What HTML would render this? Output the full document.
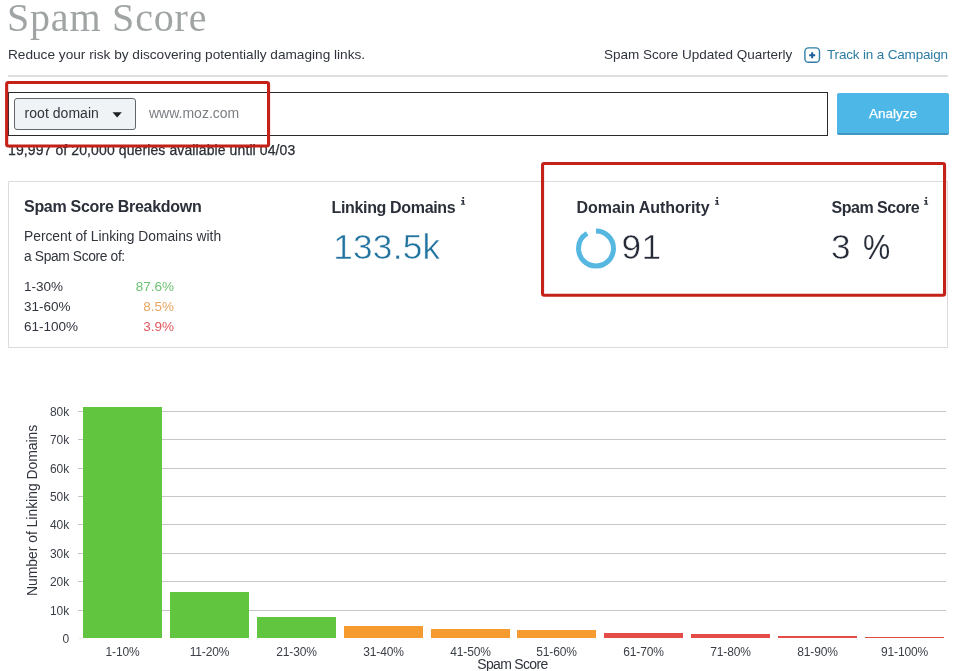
<!DOCTYPE html>
<html>
<head>
<meta charset="utf-8">
<title>Spam Score</title>
<style>
  html, body { margin: 0; padding: 0; }
  body {
    width: 966px; height: 671px; overflow: hidden; position: relative;
    background: #ffffff;
    font-family: "Liberation Sans", sans-serif;
    color: #2e3440;
  }
  #wrap { position: absolute; left: 0; top: 0; width: 966px; height: 671px; will-change: transform; }
  .abs { position: absolute; white-space: nowrap; }
  .title {
    left: 7px; top: -6px;
    font-family: "Liberation Serif", serif;
    font-size: 40px; line-height: 48px; color: #a0a4a5;
    letter-spacing: 0.8px;
  }
  .sub { left: 8px; top: 46px; transform: translateY(-0.5px); font-size: 13.65px; line-height: 18px; color: #30343c; }
  .upd { left: 604px; top: 46px; transform: translateY(-0.5px); font-size: 13.5px; line-height: 18px; color: #30343c; }
  .track { left: 827px; top: 46px; transform: translateY(-0.5px); font-size: 13.5px; line-height: 18px; color: #2c7ba3; letter-spacing: -0.17px; }
  .hr { left: 8px; top: 75px; width: 940px; height: 2px; background: #dfdfdf; }
  .inputbox { left: 8px; top: 92px; width: 818px; height: 42px; border: 1px solid #2a2a2a; background: #fff; }
  .select { left: 14px; top: 98px; width: 120px; height: 30px; border: 1px solid #62676b; background: #eff3f5; border-radius: 3px; }
  .seltext { left: 24.6px; top: 104px; font-size: 14px; line-height: 18px; color: #30343c; letter-spacing: 0.03px; transform: translateY(0.4px); }
  .placeholder { left: 149px; top: 104px; font-size: 14px; line-height: 18px; color: #7a7f84; transform: translateY(0.2px); }
  .btn { left: 837px; top: 93px; width: 112px; height: 39.6px; background: #4db8e8; border-bottom: 2px solid #3f96c0; border-radius: 2px; }
  .btntext { left: 837px; top: 104.5px; -webkit-text-stroke: 0.25px #fff; width: 112px; text-align: center; font-size: 13.5px; line-height: 18px; color: #ffffff; }
  .queries { left: 8px; top: 141px; font-size: 14px; line-height: 18px; color: #2a2e35; letter-spacing: 0.105px; -webkit-text-stroke: 0.25px #2a2e35; transform: translateY(0.3px); }
  .panel { left: 8px; top: 181px; width: 938px; height: 165px; border: 1px solid #dcdcdc; background: #fff; }
  .h { font-weight: bold; font-size: 16px; line-height: 20px; color: #2b2f3a; }
  .txt { font-size: 13.5px; line-height: 20px; color: #30343c; }
  .big { font-size: 35.2px; line-height: 40px; transform: translateY(0.6px); color: #262b38; -webkit-text-stroke: 0.55px #ffffff; }
  .ylab { font-size: 12px; line-height: 16px; width: 40px; text-align: right; color: #3a3e46; margin-left: 0.3px; transform: translateY(1.25px); }
  .xlab { font-size: 12px; line-height: 16px; width: 87px; text-align: center; color: #3a3e46; letter-spacing: -0.15px; }
  .grid { left: 78px; width: 868px; height: 1px; background: #c6c6c6; }
  .bar { position: absolute; }
</style>
</head>
<body>
<div id="wrap">

<div class="abs title">Spam Score</div>
<div class="abs sub">Reduce your risk by discovering potentially damaging links.</div>
<div class="abs upd">Spam Score Updated Quarterly</div>
<svg class="abs" style="left:804px;top:47px" width="17" height="17" viewBox="0 0 17 17"><rect x="0.9" y="0.9" width="14.6" height="14.4" rx="3.6" ry="3.6" fill="#ffffff" stroke="#2f7ea8" stroke-width="1.4"/><path d="M8.2 5.3 V11.3 M5.2 8.3 H11.2" stroke="#1c5f9a" stroke-width="2" fill="none"/></svg>
<div class="abs track">Track in a Campaign</div>
<div class="abs hr"></div>

<div class="abs inputbox"></div>
<div class="abs select"></div>
<div class="abs seltext">root domain</div>
<svg class="abs" style="left:110px;top:110px" width="14" height="10" viewBox="0 0 14 10"><path d="M2.5 2.2 H11.8 L7.15 7.4 Z" fill="#1c1f24"/></svg>
<div class="abs placeholder">www.moz.com</div>
<div class="abs btn"></div>
<div class="abs btntext">Analyze</div>
<div class="abs queries">19,997 of 20,000 queries available until 04/03</div>

<div class="abs panel"></div>
<div class="abs h" style="left:24px;top:196.6px;letter-spacing:-0.29px">Spam Score Breakdown</div>
<div class="abs txt" style="left:24px;top:226.5px;font-size:13.8px">Percent of Linking Domains with</div>
<div class="abs txt" style="left:24px;top:246.5px;font-size:13.8px;letter-spacing:-0.36px">a Spam Score of:</div>
<div class="abs txt" style="left:24px;top:276.6px">1-30%</div>
<div class="abs txt" style="left:24px;top:296.6px">31-60%</div>
<div class="abs txt" style="left:24px;top:316.6px">61-100%</div>
<div class="abs txt" style="left:114px;width:60px;text-align:right;top:276.6px;color:#6cc070">87.6%</div>
<div class="abs txt" style="left:114px;width:60px;text-align:right;top:296.6px;color:#eaa560">8.5%</div>
<div class="abs txt" style="left:114px;width:60px;text-align:right;top:316.6px;color:#e0575f">3.9%</div>

<div class="abs h" style="left:331.5px;top:197.9px;letter-spacing:-0.34px">Linking Domains</div>
<svg class="abs" style="left:461.2px;top:196.9px" width="5" height="9" viewBox="0 0 5 9"><path fill="#2b303b" d="M1.3 0h1.8v1.8H1.3z M0.3 3.1h2.8v3.6h1v1.1H0v-1.1h1.4V4.2H0.3z"/></svg>
<div class="abs big" style="left:333.2px;top:226px;letter-spacing:0.25px;color:#20739f">133.5k</div>

<div class="abs h" style="left:576.5px;top:197.9px;letter-spacing:-0.04px">Domain Authority</div>
<svg class="abs" style="left:715.2px;top:196.9px" width="5" height="9" viewBox="0 0 5 9"><path fill="#2b303b" d="M1.3 0h1.8v1.8H1.3z M0.3 3.1h2.8v3.6h1v1.1H0v-1.1h1.4V4.2H0.3z"/></svg>
<svg class="abs" style="left:574px;top:225.5px" width="44" height="44" viewBox="0 0 44 44">
  <circle cx="22" cy="22.5" r="17.5" fill="none" stroke="#56b8e1" stroke-width="5"
    stroke-dasharray="100 200" transform="rotate(-90 22 22.5)"/>
</svg>
<div class="abs big" style="left:621.6px;top:226px;letter-spacing:0.4px">91</div>

<div class="abs h" style="left:831.5px;top:197.9px;letter-spacing:-0.48px">Spam Score</div>
<svg class="abs" style="left:924px;top:196.9px" width="5" height="9" viewBox="0 0 5 9"><path fill="#2b303b" d="M1.3 0h1.8v1.8H1.3z M0.3 3.1h2.8v3.6h1v1.1H0v-1.1h1.4V4.2H0.3z"/></svg>
<div class="abs big" style="left:831.1px;top:226px">3</div>
<div class="abs big" style="left:862.6px;top:226px;transform:translateY(0.6px) scaleX(0.87);transform-origin:0 0;-webkit-text-stroke-width:0.15px">%</div>

<svg class="abs" style="left:0;top:0" width="966" height="671" viewBox="0 0 966 671"><g fill="none" stroke="#c42118" stroke-width="3.1"><rect x="6.65" y="82.5" width="261.9" height="63.45" rx="1.7" ry="1.7"/><rect x="542.55" y="163.5" width="402" height="131.7" rx="1.7" ry="1.7"/></g></svg>

<!-- chart -->
<div class="abs grid" style="top:411px"></div>
<div class="abs grid" style="top:439px"></div>
<div class="abs grid" style="top:468px"></div>
<div class="abs grid" style="top:496px"></div>
<div class="abs grid" style="top:524px"></div>
<div class="abs grid" style="top:553px"></div>
<div class="abs grid" style="top:581px"></div>
<div class="abs grid" style="top:610px"></div>
<div class="abs grid" style="top:638px;background:#f1f1f1;width:5px"></div>

<div class="abs ylab" style="left:29px;top:403px">80k</div>
<div class="abs ylab" style="left:29px;top:431px">70k</div>
<div class="abs ylab" style="left:29px;top:460px">60k</div>
<div class="abs ylab" style="left:29px;top:488px">50k</div>
<div class="abs ylab" style="left:29px;top:516px">40k</div>
<div class="abs ylab" style="left:29px;top:545px">30k</div>
<div class="abs ylab" style="left:29px;top:573px">20k</div>
<div class="abs ylab" style="left:29px;top:602px">10k</div>
<div class="abs ylab" style="left:29px;top:630px">0</div>

<div class="bar" style="left:83px;width:79px;top:407px;height:231px;background:#62c53f"></div>
<div class="bar" style="left:170px;width:79px;top:592px;height:46px;background:#62c53f"></div>
<div class="bar" style="left:257px;width:79px;top:617px;height:21px;background:#62c53f"></div>
<div class="bar" style="left:344px;width:79px;top:626px;height:12px;background:#f59b2f"></div>
<div class="bar" style="left:431px;width:79px;top:629px;height:9px;background:#f59b2f"></div>
<div class="bar" style="left:517px;width:79px;top:630px;height:8px;background:#f59b2f"></div>
<div class="bar" style="left:604px;width:79px;top:633px;height:5px;background:#e44d47"></div>
<div class="bar" style="left:691px;width:79px;top:634px;height:4px;background:#e44d47"></div>
<div class="bar" style="left:778px;width:79px;top:636px;height:2px;background:#e44d47"></div>
<div class="bar" style="left:865px;width:79px;top:637px;height:1px;background:#e44d47"></div>

<div class="abs xlab" style="left:79px;top:644px">1-10%</div>
<div class="abs xlab" style="left:166px;top:644px">11-20%</div>
<div class="abs xlab" style="left:253px;top:644px">21-30%</div>
<div class="abs xlab" style="left:340px;top:644px">31-40%</div>
<div class="abs xlab" style="left:427px;top:644px">41-50%</div>
<div class="abs xlab" style="left:513px;top:644px">51-60%</div>
<div class="abs xlab" style="left:600px;top:644px">61-70%</div>
<div class="abs xlab" style="left:687px;top:644px">71-80%</div>
<div class="abs xlab" style="left:774px;top:644px">81-90%</div>
<div class="abs xlab" style="left:861px;top:644px">91-100%</div>

<div class="abs" style="left:477.3px;top:655px;font-size:14px;line-height:18px;letter-spacing:-0.68px;color:#30343c;transform:translateY(0.2px)">Spam Score</div>
<div class="abs" style="left:-68px;top:501px;width:200px;text-align:center;font-size:13.9px;line-height:18px;color:#30343c;transform:translate(0.3px,0.4px) rotate(-90deg);transform-origin:50% 50%">Number of Linking Domains</div>

</div>
</body>
</html>
